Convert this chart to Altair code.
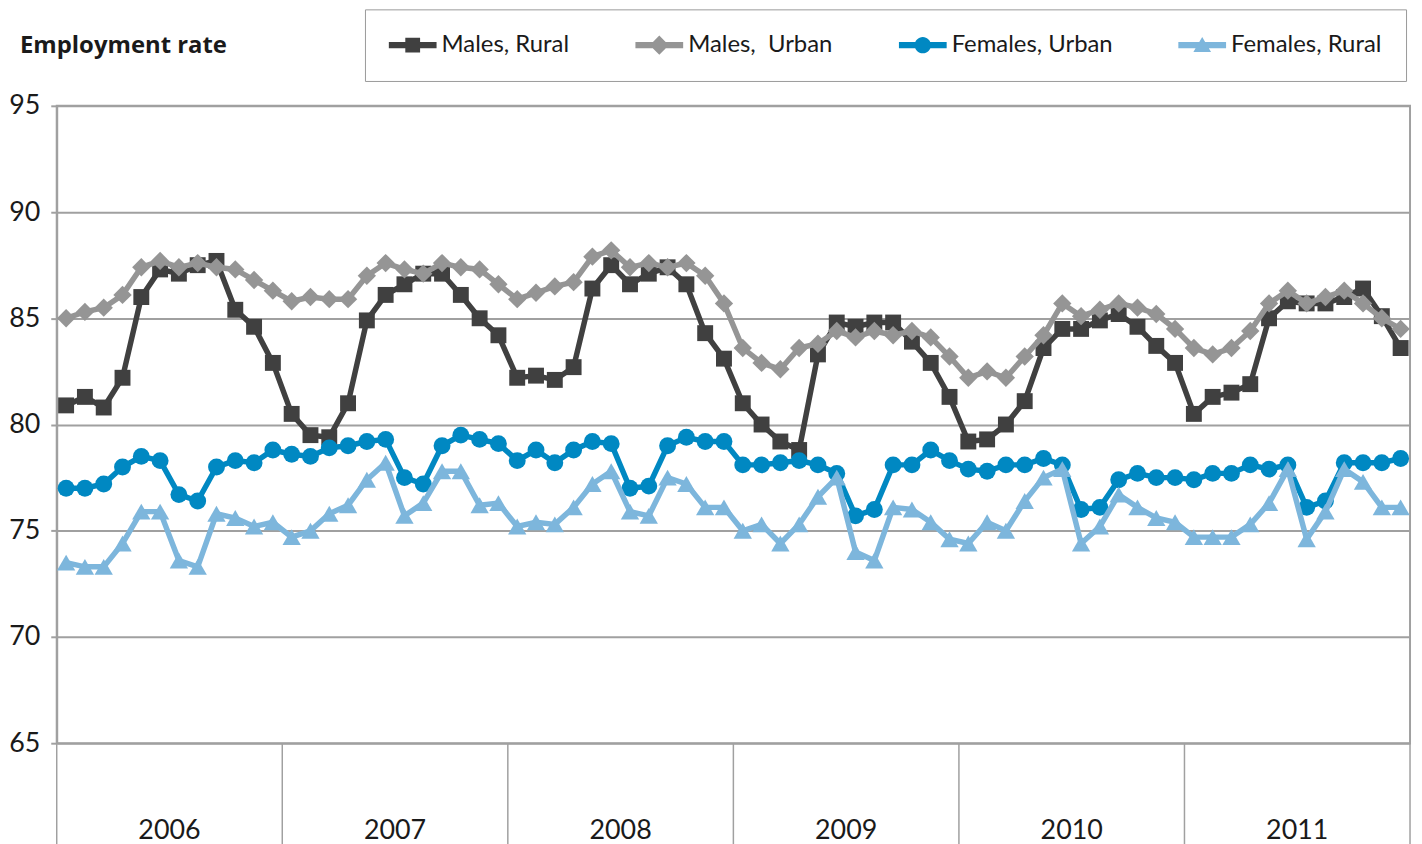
import altair as alt
import pandas as pd

# ---------------- data ----------------
years = ["2006", "2007", "2008", "2009", "2010", "2011"]
series_names = ["Males, Rural", "Males,  Urban", "Females, Urban", "Females, Rural"]
series_colors = ["#404040", "#959595", "#0088C2", "#7DB6DC"]
y_ticks = [65, 70, 75, 80, 85, 90, 95]
title_text = "Employment rate"

males_rural = [80.9, 81.3, 80.8, 82.2, 86.0, 87.3, 87.1, 87.5, 87.7, 85.4, 84.6, 82.9,
               80.5, 79.5, 79.4, 81.0, 84.9, 86.1, 86.6, 87.1, 87.1, 86.1, 85.0, 84.2,
               82.2, 82.3, 82.1, 82.7, 86.4, 87.5, 86.6, 87.1, 87.4, 86.6, 84.3, 83.1,
               81.0, 80.0, 79.2, 78.8, 83.3, 84.8, 84.6, 84.8, 84.8, 83.9, 82.9, 81.3,
               79.2, 79.3, 80.0, 81.1, 83.6, 84.5, 84.5, 84.9, 85.2, 84.6, 83.7, 82.9,
               80.5, 81.3, 81.5, 81.9, 85.0, 85.8, 85.7, 85.7, 86.0, 86.4, 85.1, 83.6]

males_urban = [85.0, 85.3, 85.5, 86.1, 87.4, 87.7, 87.4, 87.6, 87.4, 87.3, 86.8, 86.3,
               85.8, 86.0, 85.9, 85.9, 87.0, 87.6, 87.3, 87.1, 87.6, 87.4, 87.3, 86.6,
               85.9, 86.2, 86.5, 86.7, 87.9, 88.2, 87.4, 87.6, 87.4, 87.6, 87.0, 85.7,
               83.6, 82.9, 82.6, 83.6, 83.8, 84.4, 84.1, 84.4, 84.2, 84.4, 84.1, 83.2,
               82.2, 82.5, 82.2, 83.2, 84.2, 85.7, 85.1, 85.4, 85.7, 85.5, 85.2, 84.5,
               83.6, 83.3, 83.6, 84.4, 85.7, 86.3, 85.7, 86.0, 86.3, 85.7, 85.0, 84.5]

females_urban = [77.0, 77.0, 77.2, 78.0, 78.5, 78.3, 76.7, 76.4, 78.0, 78.3, 78.2, 78.8,
                 78.6, 78.5, 78.9, 79.0, 79.2, 79.3, 77.5, 77.2, 79.0, 79.5, 79.3, 79.1,
                 78.3, 78.8, 78.2, 78.8, 79.2, 79.1, 77.0, 77.1, 79.0, 79.4, 79.2, 79.2,
                 78.1, 78.1, 78.2, 78.3, 78.1, 77.7, 75.7, 76.0, 78.1, 78.1, 78.8, 78.3,
                 77.9, 77.8, 78.1, 78.1, 78.4, 78.1, 76.0, 76.1, 77.4, 77.7, 77.5, 77.5,
                 77.4, 77.7, 77.7, 78.1, 77.9, 78.1, 76.1, 76.4, 78.2, 78.2, 78.2, 78.4]

females_rural = [73.5, 73.3, 73.3, 74.4, 75.9, 75.9, 73.6, 73.3, 75.8, 75.6, 75.2, 75.4,
                 74.7, 75.0, 75.8, 76.2, 77.4, 78.2, 75.7, 76.3, 77.8, 77.8, 76.2, 76.3,
                 75.2, 75.4, 75.3, 76.1, 77.2, 77.8, 75.9, 75.7, 77.5, 77.2, 76.1, 76.1,
                 75.0, 75.3, 74.4, 75.3, 76.6, 77.5, 74.0, 73.6, 76.1, 76.0, 75.4, 74.6,
                 74.4, 75.4, 75.0, 76.4, 77.5, 77.9, 74.4, 75.2, 76.7, 76.1, 75.6, 75.4,
                 74.7, 74.7, 74.7, 75.3, 76.3, 77.9, 74.6, 75.9, 77.9, 77.3, 76.1, 76.1]

all_values = [males_rural, males_urban, females_urban, females_rural]

# ---------------- tables ----------------
rows = []
for name, vals in zip(series_names, all_values):
    for i, v in enumerate(vals):
        rows.append({"series": name, "m": i + 0.5, "value": v})
df = pd.DataFrame(rows)

n_months = 12 * len(years)
df_sep = pd.DataFrame({"b": [12 * k for k in range(len(years) + 1)]})
df_years = pd.DataFrame({"year": years, "mid": [12 * k + 6 for k in range(len(years))]})
df_title = pd.DataFrame({"t": [title_text]})
df_leg = pd.DataFrame({"series": series_names})

# ---------------- styling ----------------
FONT = "Lato"
TXT = "#1a1a1a"
GRID = "#A0A0A0"
W, H = 1361, 641

xscale = alt.Scale(domain=[0, n_months], nice=False, zero=False)
yscale = alt.Scale(domain=[65, 95], nice=False, zero=False)
color_scale = alt.Scale(domain=series_names, range=series_colors)

# legend symbols: a 48px line with the marker in its middle (unit = 12px),
# shifted right so that the line starts at the entry's left edge
bar = "M-1,-0.26H3V0.26H-1Z"
legend_shapes = [
    bar + "M0.38,-0.62H1.62V0.62H0.38Z",
    bar + "M1,-0.8L1.8,0L1,0.8L0.2,0Z",
    bar + "M0.32,0A0.68,0.68 0 1,1 1.68,0A0.68,0.68 0 1,1 0.32,0Z",
    bar + "M1,-0.68L1.74,0.58L0.26,0.58Z",
]
shape_scale = alt.Scale(domain=series_names, range=legend_shapes)

marker_shapes = ["square", "diamond", "circle", "triangle-up"]
marker_sizes = [256, 340, 289, 340]

yaxis = alt.Axis(values=y_ticks, grid=True, gridColor=GRID, gridWidth=2,
                 domain=True, domainColor=GRID, domainWidth=2,
                 ticks=True, tickColor=GRID, tickSize=6, tickWidth=2,
                 labelFontSize=27, labelFont=FONT, labelColor=TXT, labelPadding=11,
                 title=None)

X = alt.X("m:Q", scale=xscale, axis=None)
Y = alt.Y("value:Q", scale=yscale, axis=yaxis)

layers = []
for name, col, shp, sz in zip(series_names, series_colors, marker_shapes, marker_sizes):
    sub = alt.Chart(df).transform_filter(alt.datum.series == name)
    layers.append(sub.mark_line(strokeWidth=5.5, color=col).encode(x=X, y=Y))
    layers.append(sub.mark_point(shape=shp, size=sz, filled=True, opacity=1, color=col).encode(x=X, y=Y))

sep = alt.Chart(df_sep).mark_rule(color=GRID, strokeWidth=1.5).encode(
    x=alt.X("b:Q", scale=xscale, axis=None),
    y=alt.value(H), y2=alt.value(H + 120))

year_txt = alt.Chart(df_years).mark_text(fontSize=27, font=FONT, color=TXT, baseline="middle").encode(
    x=alt.X("mid:Q", scale=xscale, axis=None),
    y=alt.value(H + 88),
    text="year:N")

title = alt.Chart(df_title).mark_text(fontSize=24, font="Open Sans", fontWeight="bold", color=TXT,
                                      align="left", baseline="middle").encode(
    x=alt.value(-37), y=alt.value(-60), text="t:N")

label_expr = "replace(datum.label, '  ', '\u00a0 ')"
legend_proxy = alt.Chart(df_leg).mark_point(filled=True, clip=True, opacity=1).encode(
    x=alt.value(-500), y=alt.value(-500),
    color=alt.Color("series:N", scale=color_scale,
                    legend=alt.Legend(title=None, labelExpr=label_expr)),
    shape=alt.Shape("series:N", scale=shape_scale,
                    legend=alt.Legend(title=None, labelExpr=label_expr)))

chart = alt.layer(*layers, sep, year_txt, title, legend_proxy).properties(
    width=W, height=H,
    autosize=alt.AutoSizeParams(type="none"),
    padding={"left": 49, "top": 96, "right": 4, "bottom": 100},
).configure_view(
    stroke=GRID, strokeWidth=2
).configure_legend(
    orient="none", legendX=310, legendY=-97, direction="horizontal", columns=4,
    symbolSize=576, symbolStrokeWidth=0, labelFontSize=24, labelFont=FONT,
    labelColor=TXT, strokeColor="#999999", padding=24, columnPadding=66,
    labelOffset=29, labelLimit=400, fillColor="#ffffff",
)

chart.save("out.html", embed_options={"renderer": "svg", "actions": False})
